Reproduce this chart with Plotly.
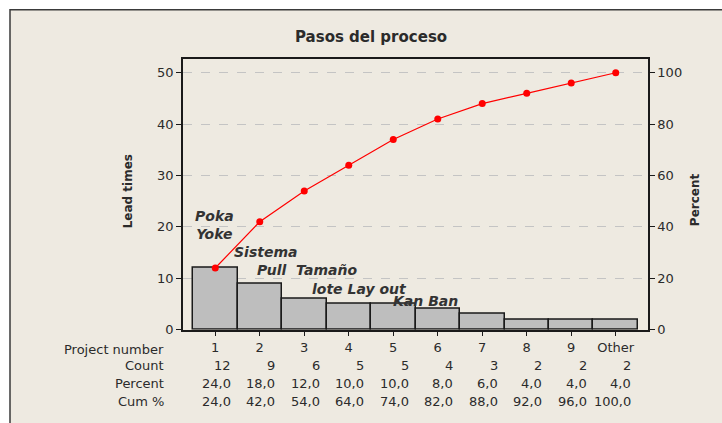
import plotly.graph_objects as go

# Pareto data: lead times per improvement project
categories = ["1", "2", "3", "4", "5", "6", "7", "8", "9", "Other"]
counts = [12, 9, 6, 5, 5, 4, 3, 2, 2, 2]
percents = [24.0, 18.0, 12.0, 10.0, 10.0, 8.0, 6.0, 4.0, 4.0, 4.0]
cum_percents = [24.0, 42.0, 54.0, 64.0, 74.0, 82.0, 88.0, 92.0, 96.0, 100.0]
left_ticks = [0, 10, 20, 30, 40, 50]
right_ticks = [0, 20, 40, 60, 80, 100]
project_labels = ["Poka<br>Yoke", "Sistema", "Pull  Tamaño", "lote Lay out", "Kan Ban"]

W, H = 722, 423
FONT = "DejaVu Sans, sans-serif"
TXT = "#2b2b2b"

def px(x):
    return x / W

def py(y):
    # pixel row (from top) to paper fraction; text boxes sit a few px high, so nudge down
    return 1 - (y + 6) / H

xs = list(range(len(categories)))
fig = go.Figure()

fig.add_trace(go.Bar(
    x=xs, y=counts, marker=dict(color="#BEBEBE", line=dict(color="#1a1a1a", width=1.5)),
    width=1.0, yaxis="y", showlegend=False,
))
fig.add_trace(go.Scatter(
    x=xs, y=cum_percents, yaxis="y2", mode="lines+markers",
    line=dict(color="#FF0000", width=1.2), marker=dict(color="#FF0000", size=7),
    showlegend=False,
))

# Outer panel behind the chart
fig.add_shape(type="rect", xref="paper", yref="paper", layer="below",
              x0=px(10), x1=px(740), y0=1 - 440 / H, y1=1 - 10 / H,
              fillcolor="#EEEAE1", line=dict(color="#3a3a3a", width=1.5))

annotations = []
# Title
annotations.append(dict(text="<b>Pasos del proceso</b>", xref="paper", yref="paper",
                        x=px(371), y=py(32), xanchor="center", yanchor="middle",
                        showarrow=False, font=dict(family=FONT, size=15, color=TXT)))
# Axis titles
annotations.append(dict(text="<b>Lead times</b>", xref="paper", yref="paper",
                        x=px(128), y=py(189), xanchor="center", yanchor="middle",
                        textangle=-90, showarrow=False,
                        font=dict(family=FONT, size=12, color=TXT)))
annotations.append(dict(text="<b>Percent</b>", xref="paper", yref="paper",
                        x=px(695), y=py(198), xanchor="center", yanchor="middle",
                        textangle=-90, showarrow=False,
                        font=dict(family=FONT, size=12, color=TXT)))

# Project name labels inside the plot
label_pos = [(-0.02, 20.3), (1.14, 15.2), (2.07, 11.6), (3.25, 8.0), (4.73, 5.6)]
for txt, (lx, ly) in zip(project_labels, label_pos):
    annotations.append(dict(text="<b><i>" + txt + "</i></b>", xref="x", yref="y",
                            x=lx, y=ly, xanchor="center", yanchor="middle",
                            showarrow=False,
                            font=dict(family=FONT, size=14, color="#333333")))

# Summary table under the axis
row_names = ["Project number", "Count", "Percent", "Cum %"]
row_y = [350, 367, 385, 403]
for name, ry in zip(row_names, row_y):
    annotations.append(dict(text=name, xref="paper", yref="paper", x=px(166), y=py(ry),
                            xanchor="right", yanchor="middle", showarrow=False,
                            font=dict(family=FONT, size=13, color=TXT)))

def fmt(v):
    return f"{v:.1f}".replace(".", ",")

rows = [[str(c) for c in counts], [fmt(p) for p in percents], [fmt(c) for c in cum_percents]]
for vals, ry in zip(rows, row_y[1:]):
    for i, v in enumerate(vals):
        annotations.append(dict(text=v, xref="x", yref="paper", x=i + 0.39, y=py(ry),
                                xanchor="right", yanchor="middle", showarrow=False,
                                font=dict(family=FONT, size=13, color=TXT)))

fig.update_layout(
    width=W, height=H, margin=dict(l=0, r=0, t=0, b=0),
    paper_bgcolor="white", plot_bgcolor="white",
    bargap=0,
    xaxis=dict(domain=[px(183), px(648)], range=[-0.725, 9.725],
               tickvals=xs, ticktext=categories, ticks="outside", ticklen=5,
               tickcolor="#1a1a1a", showline=True, linecolor="#1a1a1a", linewidth=1.5,
               mirror=True, showgrid=False, zeroline=False,
               tickfont=dict(family=FONT, size=13, color=TXT)),
    yaxis=dict(domain=[1 - 336 / H, 1 - 60 / H], range=[0, 52.7], tickvals=left_ticks,
               ticks="outside", ticklen=5, tickcolor="#1a1a1a",
               showline=True, linecolor="#1a1a1a", linewidth=1.5,
               showgrid=True, gridcolor="#C4C4C4", griddash="dash", gridwidth=1,
               zeroline=False, tickfont=dict(family=FONT, size=13, color=TXT)),
    yaxis2=dict(overlaying="y", side="right", anchor="x", range=[0, 105.4],
                tickvals=right_ticks, ticks="outside", ticklen=5, tickcolor="#1a1a1a",
                showline=True, linecolor="#1a1a1a", linewidth=1.5,
                showgrid=False, zeroline=False,
                tickfont=dict(family=FONT, size=13, color=TXT)),
    annotations=annotations,
)

fig.write_html("out.html")
